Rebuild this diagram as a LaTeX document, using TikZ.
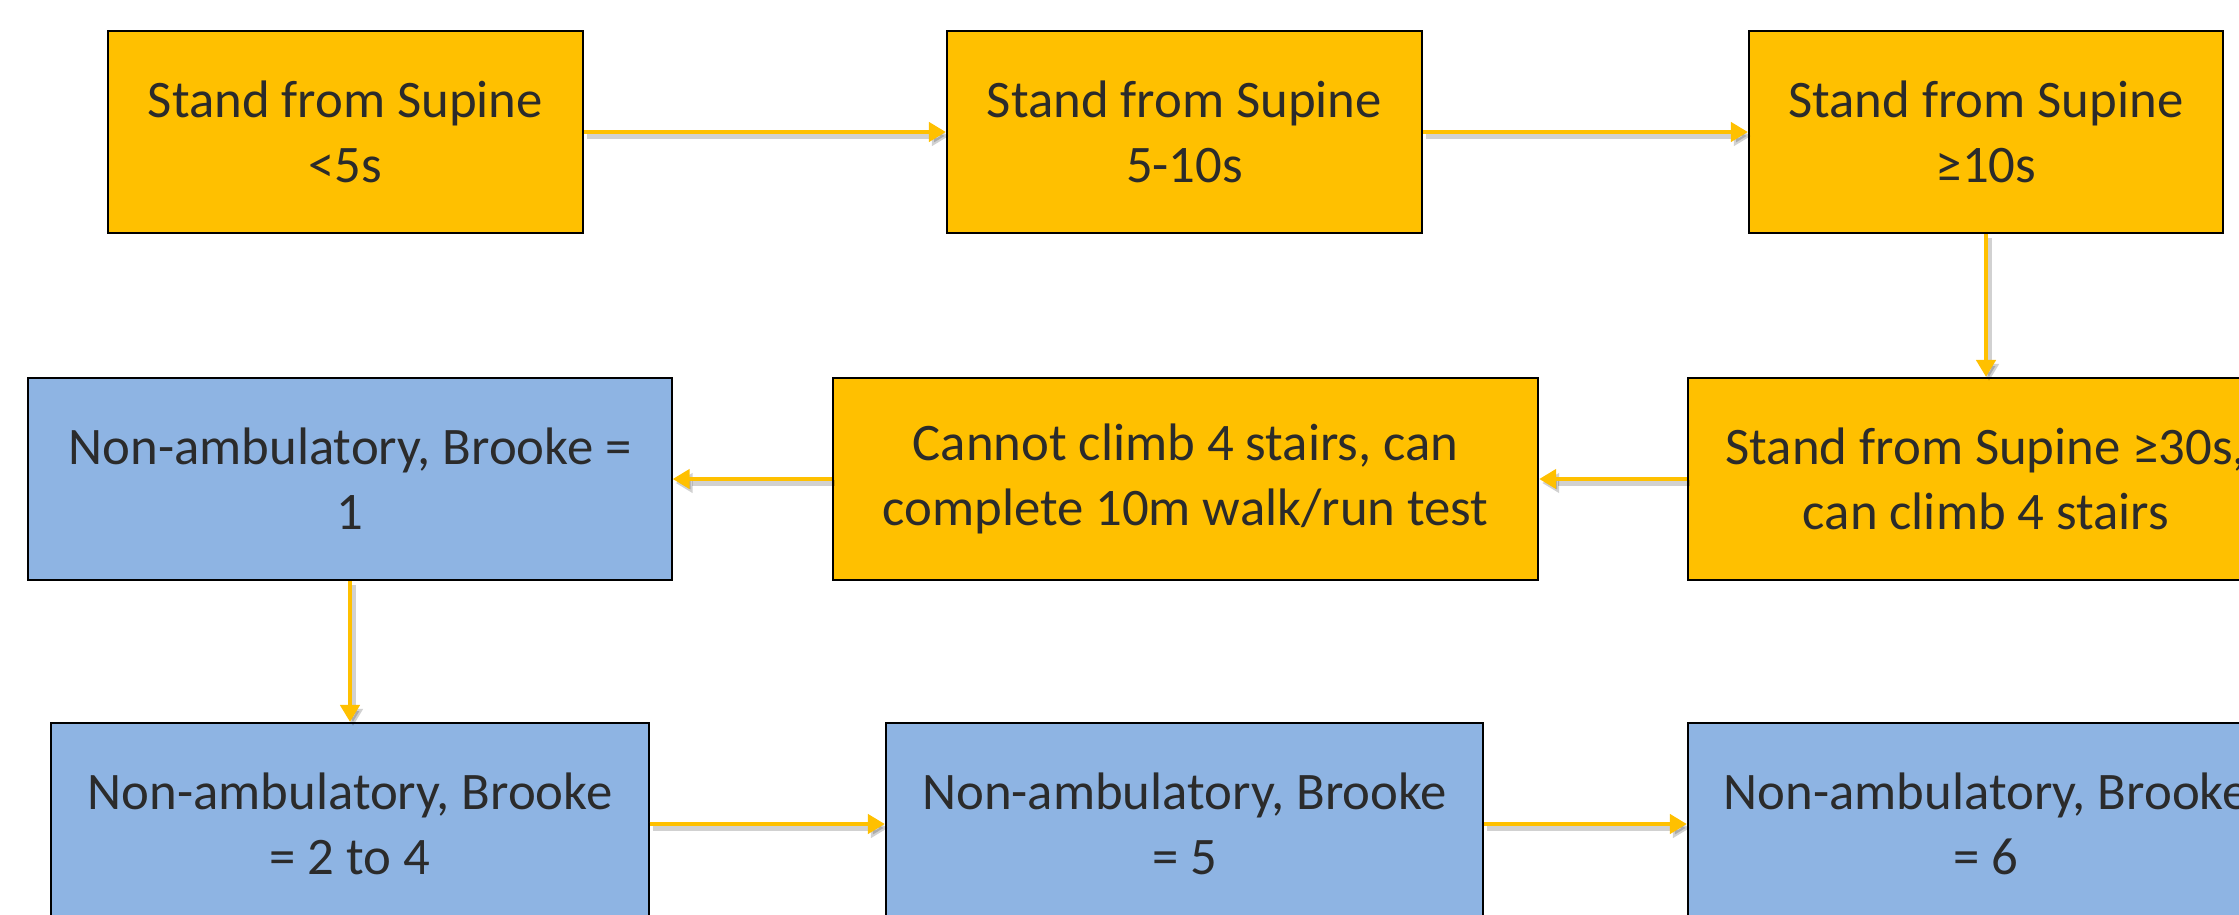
\documentclass[tikz,border=0pt]{standalone}
\usepackage{fontspec}
\setmainfont{Carlito}
\usetikzlibrary{arrows.meta}
\definecolor{boxorange}{HTML}{FFC000}
\definecolor{boxblue}{HTML}{8EB4E3}
\definecolor{txtgray}{HTML}{2B2B2B}
\begin{document}
\begin{tikzpicture}[x=0.01cm,y=-0.01cm,
  box/.style={draw=black, line width=0.55pt, minimum height=2.02cm, inner sep=0pt,
    align=center, text=txtgray, font=\fontsize{15}{18.5}\selectfont},
  obox/.style={box, fill=boxorange},
  bbox/.style={box, fill=boxblue},
  conn/.style={draw=boxorange, line width=1.4pt,
    -{Triangle[length=0.17cm,width=0.19cm]},
    preaction={draw=black, opacity=0.18, line width=1.6pt,
      transform canvas={shift={(0.03cm,-0.04cm)}}}}]
\useasboundingbox (0,0) rectangle (2239,915);
\clip (0,0) rectangle (2239,915);
\fill[white] (0,0) rectangle (2239,915);
\node[obox, minimum width=4.75cm] (b1) at (345.5,132) {Stand from Supine\\<5s};
\node[obox, minimum width=4.75cm] (b2) at (1184.5,132) {Stand from Supine\\5-10s};
\node[obox, minimum width=4.74cm] (b3) at (1986,132) {Stand from Supine\\≥10s};
\node[bbox, minimum width=6.43cm] (b4) at (350,479) {Non-ambulatory, Brooke =\\1};
\node[obox, minimum width=7.05cm] (b5) at (1185.5,479) {Cannot climb 4 stairs, can\\complete 10m walk/run test};
\node[obox, minimum width=5.96cm] (b6) at (1986,479) {Stand from Supine ≥30s,\\can climb 4 stairs};
\node[bbox, minimum width=5.97cm] (b7) at (350,824) {Non-ambulatory, Brooke\\= 2 to 4};
\node[bbox, minimum width=5.97cm] (b8) at (1184.5,824) {Non-ambulatory, Brooke\\= 5};
\node[bbox, minimum width=5.96cm] (b9) at (1986,824) {Non-ambulatory, Brooke\\= 6};
\draw[conn] (b1) -- (b2);
\draw[conn] (b2) -- (b3);
\draw[conn] (b3) -- (b6);
\draw[conn] (b6) -- (b5);
\draw[conn] (b5) -- (b4);
\draw[conn] (b4) -- (b7);
\draw[conn] (b7) -- (b8);
\draw[conn] (b8) -- (b9);
\end{tikzpicture}
\end{document}
